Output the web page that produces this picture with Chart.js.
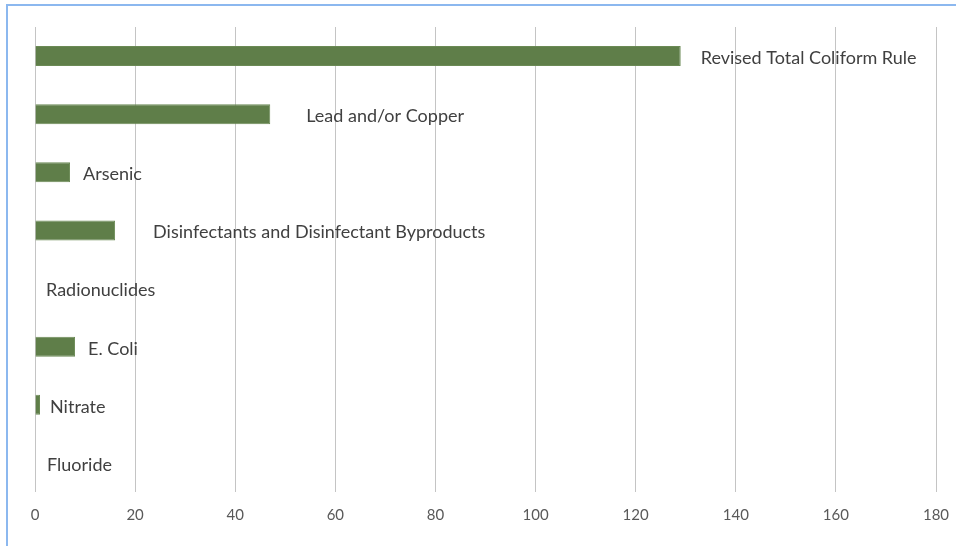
<!DOCTYPE html>
<html>
<head>
<meta charset="utf-8">
<script src="https://cdn.jsdelivr.net/npm/chart.js@4"></script>
<style>
  html, body { margin: 0; padding: 0; background: #ffffff; width: 956px; height: 546px; overflow: hidden; }
  #frame { position: absolute; left: 6px; top: 4px; width: 2000px; height: 2000px;
           border-top: 2px solid #8cb8ef; border-left: 2px solid #8cb8ef; box-sizing: border-box; }
  #wrap { position: absolute; left: 0; top: 0; width: 951px; height: 546px; overflow: hidden; }
  canvas { display: block; }
</style>
</head>
<body>
<div id="frame"></div>
<div id="wrap"><canvas id="c" width="956" height="546"></canvas></div>
<script>
const categories = [
  "Revised Total Coliform Rule",
  "Lead and/or Copper",
  "Arsenic",
  "Disinfectants and Disinfectant Byproducts",
  "Radionuclides",
  "E. Coli",
  "Nitrate",
  "Fluoride"
];
const violations = [129, 47, 7, 16, 0, 8, 1, 0];
const xTickValues = [0, 20, 40, 60, 80, 100, 120, 140, 160, 180];

// label gap (px) after each bar end
const labelGaps = [20, 36, 13, 38, 11, 13, 10, 12];

const barLabels = {
  id: 'barLabels',
  afterDatasetsDraw(chart) {
    const ctx = chart.ctx;
    const meta = chart.getDatasetMeta(0);
    ctx.save();
    ctx.font = '18px Lato, "Open Sans", sans-serif';
    ctx.fillStyle = '#404040';
    ctx.textAlign = 'left';
    ctx.textBaseline = 'middle';
    meta.data.forEach((bar, i) => {
      ctx.fillText(categories[i], bar.x + labelGaps[i], bar.y + 2);
    });
    ctx.restore();
  }
};

new Chart(document.getElementById('c'), {
  type: 'bar',
  data: {
    labels: categories,
    datasets: [{
      data: violations,
      backgroundColor: '#5f7e49',
      borderColor: '#6b8a55',
      borderWidth: 1,
      barPercentage: 0.344,
      categoryPercentage: 1.0
    }]
  },
  options: {
    indexAxis: 'y',
    responsive: false,
    animation: false,
    layout: { padding: { left: 35, right: 20, top: 27, bottom: 0 } },
    plugins: { legend: { display: false }, tooltip: { enabled: false } },
    scales: {
      x: {
        min: 0, max: 180,
        afterBuildTicks(scale) { scale.ticks = xTickValues.map(v => ({ value: v })); },
        afterFit(scale) { scale.height = 54; scale.paddingLeft = 0; scale.paddingRight = 0; },
        grid: { color: '#c4c4c4', lineWidth: 1, drawTicks: false },
        border: { display: false },
        ticks: { padding: 14, color: '#595959', font: { family: 'Lato, "Open Sans", sans-serif', size: 15 } }
      },
      y: { display: false }
    }
  },
  plugins: [barLabels]
});
</script>
</body>
</html>
